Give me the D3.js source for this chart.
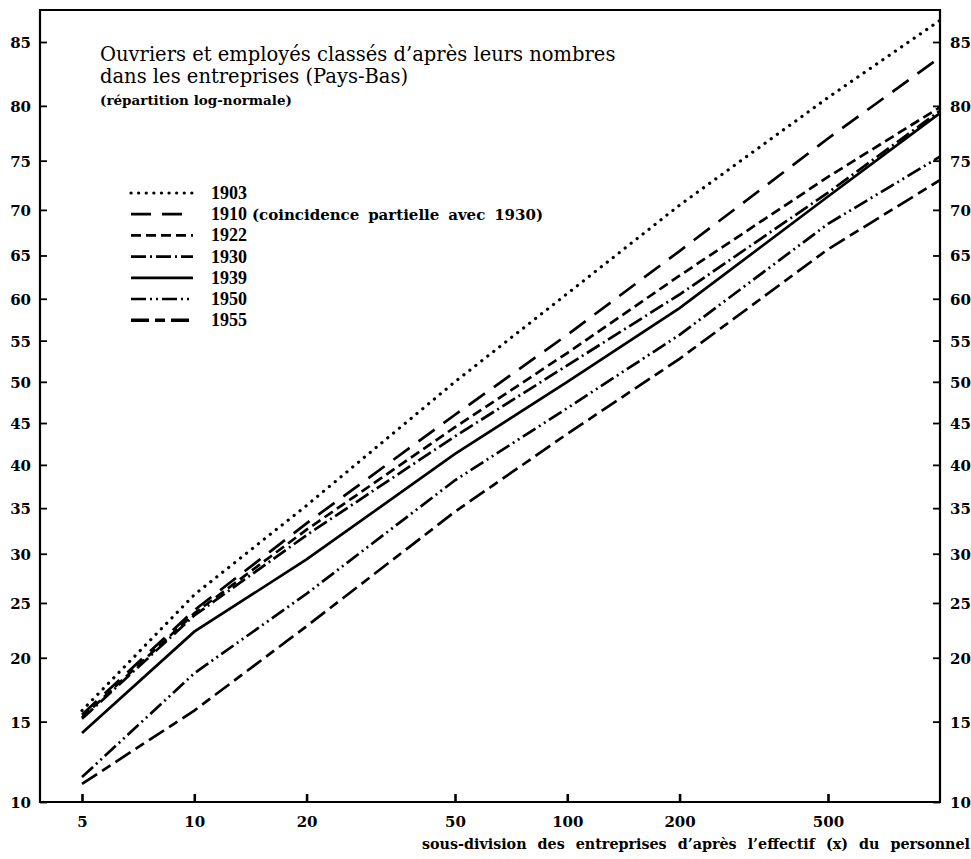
<!DOCTYPE html>
<html>
<head>
<meta charset="utf-8">
<script src="https://cdn.jsdelivr.net/npm/d3@7/dist/d3.min.js"></script>
<style>
  html, body { margin: 0; padding: 0; background: #fff; }
  svg { display: block; }
  text { fill: #000; }
  .serif { font-family: "Liberation Serif", "DejaVu Serif", serif; }
  .wide { font-family: "DejaVu Serif", "Liberation Serif", serif; }
</style>
</head>
<body>
<svg id="chart" width="971" height="859"></svg>
<script>
// ---- data (cumulative % of workers, by firm size x) ----
const xValues = [5, 10, 20, 50, 100, 200, 500, 1000];
const years = ["1903", "1910", "1922", "1930", "1939", "1950", "1955"];
const s1903 = [15.8, 25.8, 35.3, 50.0, 60.6, 70.5, 80.7, 86.5];
const s1910 = [15.5, 24.3, 33.3, 46.0, 55.7, 65.5, 77.1, 83.9];
const s1922 = [15.3, 24.0, 32.6, 44.5, 53.5, 62.7, 73.4, 79.9];
const s1930 = [15.2, 23.8, 32.0, 43.4, 52.0, 60.5, 71.8, 79.6];
const s1939 = [14.2, 22.3, 29.4, 41.3, 50.0, 58.9, 71.4, 79.4];
const s1950 = [11.4, 18.7, 25.9, 38.2, 46.8, 55.7, 68.5, 75.4];
const s1955 = [11.0, 15.8, 22.8, 34.6, 43.7, 52.8, 65.7, 73.1];
const yTicks = [10, 15, 20, 25, 30, 35, 40, 45, 50, 55, 60, 65, 70, 75, 80, 85];
const xTicks = [5, 10, 20, 50, 100, 200, 500];
const legendNote = "(coincidence partielle avec 1930)";
const titleLines = ["Ouvriers et employés classés d\u2019après leurs nombres", "dans les entreprises (Pays-Bas)"];
const subTitle = "(répartition log-normale)";
const xTitle = "sous-division des entreprises d\u2019après l\u2019effectif (x) du personnel";

const seriesValues = [s1903, s1910, s1922, s1930, s1939, s1950, s1955];
const dashes = ["0.1,7.5", "20,11", "10,5", "15,4,2,4", null, "15,4,2,4,2,4", "18,6,10,6"];

// inverse normal CDF (Acklam)
function probit(p) {
  const a = [-3.969683028665376e+01, 2.209460984245205e+02, -2.759285104469687e+02, 1.383577518672690e+02, -3.066479806614716e+01, 2.506628277459239e+00];
  const b = [-5.447609879822406e+01, 1.615858368580409e+02, -1.556989798598866e+02, 6.680131188771972e+01, -1.328068155288572e+01];
  const c = [-7.784894002430293e-03, -3.223964580411365e-01, -2.400758277161838e+00, -2.549732539343734e+00, 4.374664141464968e+00, 2.938163982698783e+00];
  const d = [7.784695709041462e-03, 3.224671290700398e-01, 2.445134137142996e+00, 3.754408661907416e+00];
  const pl = 0.02425, ph = 1 - pl;
  let q, r;
  if (p < pl) { q = Math.sqrt(-2 * Math.log(p)); return (((((c[0]*q+c[1])*q+c[2])*q+c[3])*q+c[4])*q+c[5]) / ((((d[0]*q+d[1])*q+d[2])*q+d[3])*q+1); }
  if (p <= ph) { q = p - 0.5; r = q*q; return (((((a[0]*r+a[1])*r+a[2])*r+a[3])*r+a[4])*r+a[5])*q / (((((b[0]*r+b[1])*r+b[2])*r+b[3])*r+b[4])*r+1); }
  q = Math.sqrt(-2 * Math.log(1 - p)); return -(((((c[0]*q+c[1])*q+c[2])*q+c[3])*q+c[4])*q+c[5]) / ((((d[0]*q+d[1])*q+d[2])*q+d[3])*q+1);
}

// stretch word gaps so a text spans a given width
function fitWords(sel, width) {
  const n = (sel.text().match(/ /g) || []).length;
  const w = sel.node().getComputedTextLength();
  if (n > 0 && w < width) sel.attr("word-spacing", (width - w) / n);
  else if (w > width) sel.attr("textLength", width).attr("lengthAdjust", "spacingAndGlyphs");
}

const svg = d3.select("#chart");
const frame = { left: 40, right: 940, top: 10, bottom: 802 };

const x = d3.scaleLog().domain([5, 500]).range([82, 828]);
const z = d3.scaleLinear().domain([probit(0.10), probit(0.85)]).range([802, 42]);
const y = v => z(probit(v / 100));

// frame
svg.append("path")
  .attr("d", `M${frame.left},${frame.bottom}V${frame.top}H${frame.right}V${frame.bottom}Z`)
  .attr("fill", "none").attr("stroke", "#000").attr("stroke-width", 2.2);

// left axis
const gl = svg.append("g").attr("transform", `translate(${frame.left},0)`)
  .call(d3.axisLeft(z).tickValues(yTicks.map(v => probit(v / 100))).tickFormat(() => "").tickSize(-7).tickPadding(0));
gl.select(".domain").remove();
gl.selectAll(".tick line").attr("stroke", "#000").attr("stroke-width", 1.8);
gl.selectAll(".tick").append("text").attr("class", "wide")
  .attr("x", -9).attr("dy", "0.36em").attr("text-anchor", "end")
  .attr("font-size", 15).attr("font-weight", "bold")
  .text((d, i) => yTicks[i]);

// right axis
const gr = svg.append("g").attr("transform", `translate(${frame.right},0)`)
  .call(d3.axisRight(z).tickValues(yTicks.map(v => probit(v / 100))).tickFormat(() => "").tickSize(-7));
gr.select(".domain").remove();
gr.selectAll(".tick line").attr("stroke", "#000").attr("stroke-width", 1.8);
gr.selectAll(".tick").append("text").attr("class", "wide")
  .attr("x", 10).attr("dy", "0.36em").attr("text-anchor", "start")
  .attr("font-size", 15).attr("font-weight", "bold")
  .text((d, i) => yTicks[i]);

// bottom axis
const gb = svg.append("g").attr("transform", `translate(0,${frame.bottom})`)
  .call(d3.axisBottom(x).tickValues(xTicks).tickFormat(() => "").tickSize(-8));
gb.select(".domain").remove();
gb.selectAll(".tick line").attr("stroke", "#000").attr("stroke-width", 2.6);
gb.selectAll(".tick").append("text").attr("class", "wide")
  .attr("y", 25).attr("text-anchor", "middle")
  .attr("font-size", 15).attr("font-weight", "bold")
  .text(d => d);

// x title
const xt = svg.append("text").attr("class", "wide").attr("x", 422).attr("y", 849)
  .attr("font-size", 14.3).attr("font-weight", "bold")
  .text(xTitle);
fitWords(xt, 548);

// lines
const line = d3.line().x(d => x(d[0])).y(d => y(d[1]));
seriesValues.forEach((vals, i) => {
  svg.append("path")
    .datum(xValues.map((xv, j) => [xv, vals[j]]))
    .attr("d", line)
    .attr("fill", "none").attr("stroke", "#000")
    .attr("stroke-width", i === 0 ? 3.2 : 2.7)
    .attr("stroke-linecap", i === 0 ? "round" : "butt")
    .attr("stroke-dasharray", dashes[i]);
});

// title
titleLines.forEach((t, i) => {
  svg.append("text").attr("class", "wide").attr("x", 100).attr("y", 61 + i * 22)
    .attr("font-size", 19.5).text(t);
});
svg.append("text").attr("class", "wide").attr("x", 100).attr("y", 105)
  .attr("font-size", 13.5).attr("font-weight", "bold").text(subTitle);

// legend
const legY0 = 193, legDy = 21.2;
years.forEach((yr, i) => {
  const yy = legY0 + i * legDy;
  svg.append("line").attr("x1", 131).attr("x2", 193).attr("y1", yy).attr("y2", yy)
    .attr("stroke", "#000").attr("stroke-width", i === 0 ? 3.2 : (i === 6 ? 3.4 : 2.7))
    .attr("stroke-linecap", i === 0 ? "round" : "butt")
    .attr("stroke-dasharray", dashes[i]);
  svg.append("text").attr("class", "serif").attr("x", 211).attr("y", yy + 6)
    .attr("font-size", 18).attr("font-weight", "bold").text(yr);
});
const note = svg.append("text").attr("class", "wide").attr("x", 252).attr("y", legY0 + legDy + 6)
  .attr("font-size", 15).attr("font-weight", "bold")
  .text(legendNote);
fitWords(note, 291);
</script>
</body>
</html>
